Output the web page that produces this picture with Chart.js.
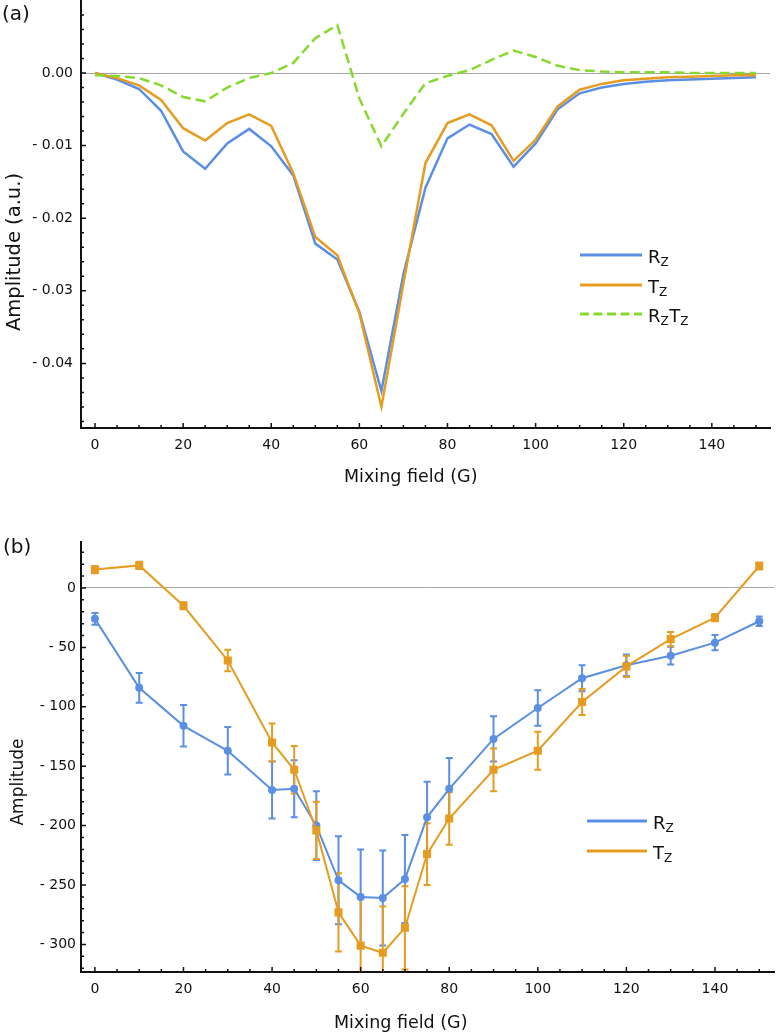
<!DOCTYPE html>
<html>
<head>
<meta charset="utf-8">
<script src="https://cdn.jsdelivr.net/npm/chart.js@4.4.1/dist/chart.umd.min.js"></script>
<style>
  body { margin: 0; background: #fff; width: 780px; height: 1034px; position: relative; overflow: hidden; }
  .panel { position: absolute; left: 0; width: 780px; }
  canvas { display: block; }
</style>
</head>
<body>
<div class="panel" style="top:0;height:500px"><canvas id="chartA" width="780" height="500"></canvas></div>
<div class="panel" style="top:500px;height:534px"><canvas id="chartB" width="780" height="534"></canvas></div>
<script>
const FONT = '"DejaVu Sans", Verdana, sans-serif';
const BLUE = '#5b8fe3', ORANGE = '#e59c20', GREEN = '#86d92e';

// panel (a): simulated amplitudes vs mixing field
const fieldA = [0, 5, 10, 15, 20, 25, 30, 35, 40, 45, 50, 55, 60, 65, 70, 75, 80, 85, 90, 95, 100, 105, 110, 115, 120, 125, 130, 135, 140, 145, 150];
const rzA = [0, -0.0009, -0.0022, -0.0052, -0.0108, -0.0132, -0.0097, -0.0077, -0.0101, -0.0141, -0.0235, -0.0257, -0.0329, -0.0438, -0.0277, -0.0158, -0.0090, -0.0071, -0.0084, -0.0129, -0.0097, -0.0050, -0.0028, -0.0020, -0.0015, -0.0012, -0.0010, -0.0009, -0.0008, -0.0007, -0.0006];
const tzA = [0, -0.0007, -0.0017, -0.0037, -0.0076, -0.0093, -0.0069, -0.0057, -0.0073, -0.0138, -0.0226, -0.0251, -0.0331, -0.0460, -0.0290, -0.0124, -0.0069, -0.0057, -0.0072, -0.0121, -0.0092, -0.0046, -0.0023, -0.0015, -0.0010, -0.0008, -0.0006, -0.0005, -0.0004, -0.0003, -0.0003];
const rztzA = [-0.0003, -0.0004, -0.0007, -0.0017, -0.0033, -0.0039, -0.0020, -0.0007, 0.0000, 0.0014, 0.0048, 0.0066, -0.0035, -0.0101, -0.0056, -0.0014, -0.0004, 0.0004, 0.0018, 0.0031, 0.0022, 0.0010, 0.0004, 0.0002, 0.0001, 0.0001, 0.0001, 0.0000, 0.0000, 0.0000, 0.0000];
const yTicksA = [0, -0.01, -0.02, -0.03, -0.04];

// panel (b): measured amplitudes with error bars
const fieldB = [0, 10, 20, 30, 40, 45, 50, 55, 60, 65, 70, 75, 80, 90, 100, 110, 120, 130, 140, 150];
const rzB = [-26, -84, -116, -137, -170, -169, -200, -246, -260, -261, -245, -193, -169, -127, -101, -76, -65, -57, -46, -28];
const rzErrB = [5, 12.5, 17.5, 20, 24, 24, 29, 37, 40, 40, 37, 30, 26, 19, 15, 11, 9, 7.5, 6.5, 4];
const tzB = [15.5, 19, -15, -61, -130, -153, -204, -273, -301, -307, -286, -224, -194, -153, -137, -96, -66, -43, -25, 18.5];
const tzErrB = [3, 3, 3, 9, 16, 20, 24, 33, 40, 39, 35, 26, 22, 18, 16, 11, 9, 6, 3, 3];
const yTicksB = [0, -50, -100, -150, -200, -250, -300];

const xTicks = [0, 20, 40, 60, 80, 100, 120, 140];

const pts = (xs, ys) => xs.map((x, i) => ({ x: x, y: ys[i] }));
const steps = (from, to, step) => Array.from({ length: Math.round((to - from) / step) + 1 }, (_, i) => from + i * step);
const isMajor = (list, v) => list.some(t => Math.abs(t - v) < 1e-9);

// text like R_Z with a small capital subscript
function drawSub(ctx, parts, x, y, size) {
  ctx.textAlign = 'left';
  ctx.textBaseline = 'alphabetic';
  parts.forEach(p => {
    ctx.font = size + 'px ' + FONT;
    ctx.fillText(p[0], x, y);
    x += ctx.measureText(p[0]).width;
    ctx.font = Math.round(size * 0.66) + 'px ' + FONT;
    ctx.fillText(p[1], x, y + 2.5);
    x += ctx.measureText(p[1]).width + 0.5;
  });
}

const decor = {
  id: 'decor',
  beforeDatasetsDraw(chart, args, o) {
    if (!o.bars) return;
    const { ctx, chartArea: a, scales: { x, y } } = chart;
    ctx.save();
    ctx.beginPath();
    ctx.rect(a.left, a.top, a.right - a.left, a.bottom - a.top);
    ctx.clip();
    ctx.lineWidth = 2;
    o.bars.forEach(b => {
      ctx.strokeStyle = b.color;
      ctx.beginPath();
      b.xs.forEach((xv, i) => {
        const px = x.getPixelForValue(xv);
        const top = y.getPixelForValue(b.ys[i] + b.errs[i]);
        const bot = y.getPixelForValue(b.ys[i] - b.errs[i]);
        ctx.moveTo(px, top); ctx.lineTo(px, bot);
        ctx.moveTo(px - 3.5, top); ctx.lineTo(px + 3.5, top);
        ctx.moveTo(px - 3.5, bot); ctx.lineTo(px + 3.5, bot);
      });
      ctx.stroke();
    });
    ctx.restore();
  },
  afterDraw(chart, args, o) {
    const { ctx, chartArea: a, scales: { x, y } } = chart;
    ctx.save();
    // inward major / minor tick marks
    ctx.strokeStyle = '#111';
    ctx.lineWidth = 1.5;
    ctx.beginPath();
    o.xMinor.forEach(v => {
      const px = x.getPixelForValue(v);
      const len = isMajor(xTicks, v) ? 5 : 3;
      ctx.moveTo(px, a.bottom); ctx.lineTo(px, a.bottom - len);
    });
    o.yMinor.forEach(v => {
      const py = y.getPixelForValue(v);
      if (py < a.top - 0.5 || py > a.bottom) return;
      const len = isMajor(o.yMajor, v) ? 5 : 3;
      ctx.moveTo(a.left, py); ctx.lineTo(a.left + len, py);
    });
    ctx.stroke();

    // legend
    const L = o.legend;
    L.items.forEach(it => {
      ctx.strokeStyle = it.color;
      ctx.lineWidth = 3;
      ctx.setLineDash(it.dash || []);
      ctx.beginPath();
      ctx.moveTo(L.x0, it.y); ctx.lineTo(L.x1, it.y);
      ctx.stroke();
      ctx.setLineDash([]);
      ctx.fillStyle = '#111';
      drawSub(ctx, it.parts, L.tx, it.y + 8, 18);
    });

    // panel label and axis titles
    ctx.fillStyle = '#111';
    ctx.font = '20px ' + FONT;
    ctx.textAlign = 'left';
    ctx.textBaseline = 'middle';
    ctx.fillText(o.panel, o.panelX, o.panelY);

    ctx.font = o.xTitle.size + 'px ' + FONT;
    ctx.textBaseline = 'alphabetic';
    ctx.fillText(o.xTitle.text, o.xTitle.x, o.xTitle.y);

    ctx.translate(o.yTitle.x, o.yTitle.y);
    ctx.rotate(-Math.PI / 2);
    ctx.font = o.yTitle.size + 'px ' + FONT;
    ctx.textAlign = 'center';
    ctx.textBaseline = 'middle';
    ctx.fillText(o.yTitle.text, 0, 0);
    ctx.restore();
  }
};

function axes(xMin, xMax, yMin, yMax, yTicks, fmt, xHeight, labelPad) {
  return {
    x: {
      type: 'linear', min: xMin, max: xMax,
      afterBuildTicks: s => { s.ticks = xTicks.map(v => ({ value: v })); },
      afterFit: s => { s.height = xHeight; s.paddingLeft = 0; s.paddingRight = 0; },
      grid: { display: false, drawTicks: false },
      border: { color: '#111', width: 2 },
      ticks: { font: { family: FONT, size: 14 }, color: '#111', padding: 9, maxRotation: 0, autoSkip: false }
    },
    y: {
      type: 'linear', min: yMin, max: yMax,
      afterBuildTicks: s => { s.ticks = yTicks.map(v => ({ value: v })); },
      afterFit: s => { s.width = 81; s.paddingTop = 0; s.paddingBottom = 0; },
      grid: {
        drawTicks: false,
        lineWidth: 1,
        color: c => (c.tick && c.tick.value === 0) ? '#a6a6a6' : 'rgba(0,0,0,0)'
      },
      border: { color: '#111', width: 2 },
      ticks: { font: { family: FONT, size: 14 }, color: '#111', padding: labelPad, autoSkip: false, callback: fmt }
    }
  };
}

// (a)
new Chart(document.getElementById('chartA'), {
  type: 'line',
  data: {
    datasets: [
      { data: pts(fieldA, rztzA), borderColor: GREEN, borderWidth: 2.5, borderDash: [10, 5], order: 0 },
      { data: pts(fieldA, tzA), borderColor: ORANGE, borderWidth: 2.5, order: 1 },
      { data: pts(fieldA, rzA), borderColor: BLUE, borderWidth: 2.5, order: 2 }
    ]
  },
  options: {
    responsive: false,
    animation: false,
    events: [],
    layout: { padding: { top: 1, right: 10, left: 0, bottom: 0 } },
    elements: { point: { radius: 0 }, line: { tension: 0 } },
    scales: axes(-3.18, 153.2, -0.0489, 0.00992, yTicksA,
      v => v === 0 ? '0.00' : '- ' + Math.abs(v).toFixed(2), 72, 8),
    plugins: {
      legend: { display: false },
      tooltip: { enabled: false },
      decor: {
        xMinor: steps(0, 150, 5),
        yMinor: steps(-0.048, 0.010, 0.002),
        yMajor: steps(-0.04, 0.01, 0.01),
        legend: {
          x0: 580, x1: 642, tx: 648,
          items: [
            { color: BLUE, y: 255, parts: [['R', 'Z']] },
            { color: ORANGE, y: 285, parts: [['T', 'Z']] },
            { color: GREEN, y: 314, dash: [9, 4.5], parts: [['R', 'Z'], ['T', 'Z']] }
          ]
        },
        panel: '(a)', panelX: 2, panelY: 15,
        xTitle: { text: 'Mixing field (G)', size: 17.5, x: 344, y: 482 },
        yTitle: { text: 'Amplitude (a.u.)', size: 19.5, x: 15, y: 252 }
      }
    }
  },
  plugins: [decor]
});

// (b)
new Chart(document.getElementById('chartB'), {
  type: 'line',
  data: {
    datasets: [
      { data: pts(fieldB, tzB), borderColor: ORANGE, backgroundColor: ORANGE, borderWidth: 2,
        pointStyle: 'rect', pointRadius: 5.7, pointBorderWidth: 0, order: 1 },
      { data: pts(fieldB, rzB), borderColor: BLUE, backgroundColor: BLUE, borderWidth: 2,
        pointStyle: 'circle', pointRadius: 4, pointBorderWidth: 0, order: 2 }
    ]
  },
  options: {
    responsive: false,
    animation: false,
    events: [],
    layout: { padding: { top: 42, right: 2, left: 0, bottom: 0 } },
    elements: { line: { tension: 0 } },
    scales: axes(-3.14, 153.4, -323.2, 38.7, yTicksB,
      v => v === 0 ? '0' : '- ' + Math.abs(v), 62, 5),
    plugins: {
      legend: { display: false },
      tooltip: { enabled: false },
      decor: {
        bars: [
          { color: BLUE, xs: fieldB, ys: rzB, errs: rzErrB },
          { color: ORANGE, xs: fieldB, ys: tzB, errs: tzErrB }
        ],
        xMinor: steps(0, 150, 5),
        yMinor: steps(-320, 30, 10),
        yMajor: steps(-300, 0, 50),
        legend: {
          x0: 587, x1: 647, tx: 653,
          items: [
            { color: BLUE, y: 321, parts: [['R', 'Z']] },
            { color: ORANGE, y: 351, parts: [['T', 'Z']] }
          ]
        },
        panel: '(b)', panelX: 3, panelY: 48,
        xTitle: { text: 'Mixing field (G)', size: 17.5, x: 334, y: 528 },
        yTitle: { text: 'Amplitude', size: 17, x: 19, y: 282 }
      }
    }
  },
  plugins: [decor]
});
</script>
</body>
</html>
